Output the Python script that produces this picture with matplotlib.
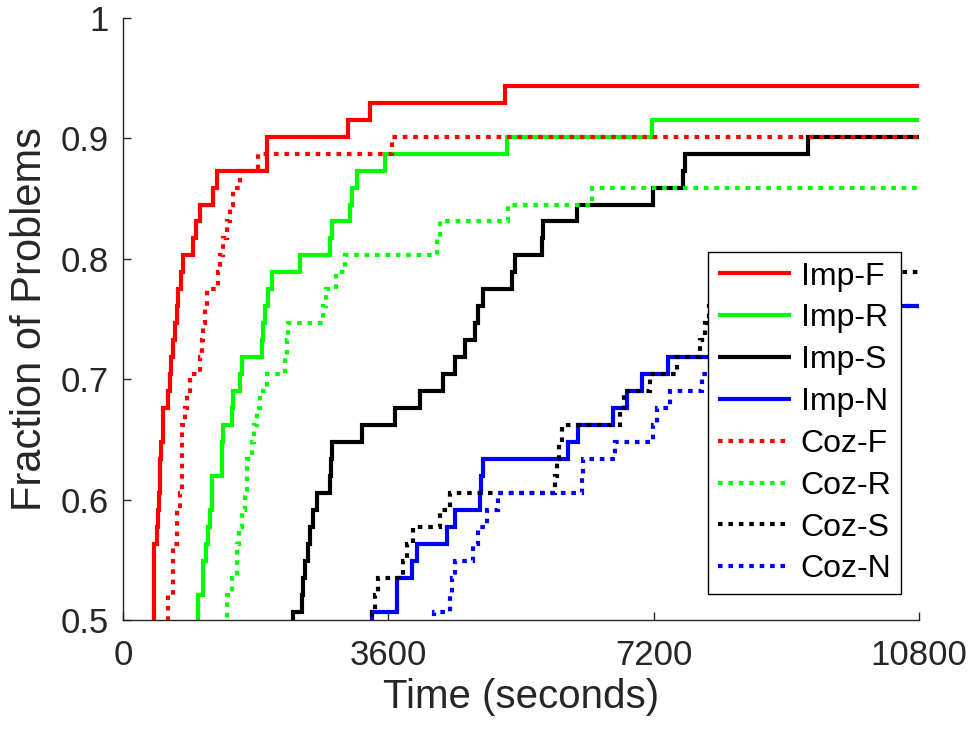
import matplotlib
matplotlib.use("Agg")
import matplotlib.pyplot as plt
import numpy as np

plt.rcParams['font.family'] = ['Liberation Sans', 'DejaVu Sans']

N_PROBLEMS = 71
T_MAX = 10800

# solve times (s) and cumulative number of problems solved after each time
impF_t = [0, 421, 457, 475, 488, 502, 522, 536, 547, 615, 631, 651, 682, 706, 726, 746, 783, 814, 950, 990, 1045, 1221, 1275, 1954, 3053, 3351, 5183]
impF_k = [35, 40, 41, 42, 43, 45, 46, 47, 48, 49, 50, 51, 52, 53, 54, 55, 56, 57, 58, 59, 60, 61, 62, 64, 65, 66, 67]

impR_t = [0, 1022, 1081, 1130, 1157, 1185, 1203, 1339, 1355, 1475, 1490, 1587, 1620, 1882, 1895, 1920, 1971, 2018, 2402, 2809, 2830, 3080, 3107, 3171, 3555, 5206, 7173]
impR_k = [35, 37, 39, 40, 41, 42, 44, 46, 47, 48, 49, 50, 51, 52, 53, 54, 55, 56, 57, 58, 59, 60, 61, 62, 63, 64, 65]

impS_t = [0, 2311, 2425, 2440, 2469, 2515, 2537, 2582, 2628, 2809, 2820, 2832, 3239, 3691, 4030, 4346, 4505, 4640, 4776, 4821, 4889, 5274, 5319, 5681, 5703, 6156, 7195, 7602, 7620, 9298]
impS_k = [35, 36, 37, 38, 39, 40, 41, 42, 43, 44, 45, 46, 47, 48, 49, 50, 51, 52, 53, 54, 55, 56, 57, 58, 59, 60, 61, 62, 63, 64]

impN_t = [0, 3374, 3714, 3720, 3917, 3985, 4392, 4505, 4844, 4860, 4889, 6042, 6178, 6653, 6834, 7038, 7399, 8200, 8900, 9700]
impN_k = [35, 36, 37, 38, 39, 40, 41, 42, 43, 44, 45, 46, 47, 48, 49, 50, 51, 52, 53, 54]

cozF_t = [0, 604, 682, 729, 773, 796, 841, 864, 909, 1045, 1068, 1090, 1113, 1136, 1289, 1316, 1360, 1407, 1452, 1497, 1587, 1836, 3646]
cozF_k = [35, 37, 40, 42, 43, 47, 48, 49, 50, 51, 52, 53, 54, 55, 56, 57, 58, 59, 60, 61, 62, 63, 64]

cozR_t = [0, 1407, 1475, 1543, 1580, 1611, 1650, 1678, 1746, 1780, 1814, 1859, 1950, 2198, 2220, 2243, 2718, 2760, 2890, 3010, 4256, 4301, 5228, 6359]
cozR_k = [35, 37, 38, 40, 41, 42, 43, 45, 46, 47, 48, 49, 50, 51, 52, 53, 54, 55, 56, 57, 58, 59, 60, 61]

cozS_t = [0, 3374, 3419, 3464, 3803, 3853, 3939, 4301, 4437, 5861, 5890, 5915, 5952, 6743, 6798, 7150, 7517, 7829, 7900, 7950, 8700, 9600]
cozS_k = [35, 36, 37, 38, 39, 40, 41, 42, 43, 44, 45, 46, 47, 48, 49, 50, 51, 52, 53, 54, 55, 56]

cozN_t = [0, 4220, 4437, 4460, 4505, 4753, 4821, 4935, 5092, 6224, 6245, 6675, 7195, 7245, 7422, 7852, 8400, 9000, 9600, 10200]
cozN_k = [35, 36, 37, 38, 39, 40, 41, 42, 43, 44, 45, 46, 47, 48, 49, 50, 51, 52, 53, 54]

series = [
    ("Imp-F", impF_t, impF_k, "#ff0000", "-"),
    ("Imp-R", impR_t, impR_k, "#00ff00", "-"),
    ("Imp-S", impS_t, impS_k, "#000000", "-"),
    ("Imp-N", impN_t, impN_k, "#0000ff", "-"),
    ("Coz-F", cozF_t, cozF_k, "#ff0000", ":"),
    ("Coz-R", cozR_t, cozR_k, "#00ff00", ":"),
    ("Coz-S", cozS_t, cozS_k, "#000000", ":"),
    ("Coz-N", cozN_t, cozN_k, "#0000ff", ":"),
]

x_ticks = [0, 3600, 7200, 10800]
x_ticklabels = ["0", "3600", "7200", "10800"]
y_ticks = [0.5, 0.6, 0.7, 0.8, 0.9, 1.0]
y_ticklabels = ["0.5", "0.6", "0.7", "0.8", "0.9", "1"]

fig = plt.figure(figsize=(9.75, 7.35), dpi=100)
ax = fig.add_axes([123/975, 1-620/735, 796/975, 602/735])

axis_col = "#262626"
for name, t, k, col, ls in series:
    x = np.array(t + [T_MAX], dtype=float)
    y = np.array(k + [k[-1]], dtype=float) / N_PROBLEMS
    if ls == "-":
        ax.step(x, y, where="post", color=col, lw=3.0, label=name,
                solid_joinstyle="miter", solid_capstyle="butt")
    else:
        ax.step(x, y, where="post", color=col, lw=3.0, label=name,
                linestyle=(0, (1.1, 1.4)), dash_capstyle="butt", dash_joinstyle="miter")

ax.set_xlim(0, T_MAX)
ax.set_ylim(0.5, 1.0)
ax.set_xticks(x_ticks)
ax.set_xticklabels(x_ticklabels)
ax.set_yticks(y_ticks)
ax.set_yticklabels(y_ticklabels)
ax.spines["top"].set_visible(False)
ax.spines["right"].set_visible(False)
for s in ["left", "bottom"]:
    ax.spines[s].set_color(axis_col)
    ax.spines[s].set_linewidth(1.0)
ax.tick_params(direction="in", length=6, width=1.0, color=axis_col,
               labelsize=25, labelcolor=axis_col)
ax.tick_params(axis="x", pad=14)
ax.tick_params(axis="y", pad=10)

ax.set_xlabel("Time (seconds)", fontsize=29, color=axis_col, labelpad=4)
ax.set_ylabel("Fraction of Problems", fontsize=30, color=axis_col, labelpad=8)

leg = ax.legend(loc="center", fontsize=23,
                frameon=True, fancybox=False, edgecolor="#000000", framealpha=1.0,
                handlelength=2.3, handletextpad=0.3, labelspacing=0.37, borderpad=0.3)
# legend box centre in axes coordinates
cx = (804.5 - 123) / 796
cy = (620 - 423) / 602
leg.set_bbox_to_anchor((cx, cy), transform=ax.transAxes)
leg.get_frame().set_linewidth(1.0)

fig.savefig("out.png", dpi=100)
